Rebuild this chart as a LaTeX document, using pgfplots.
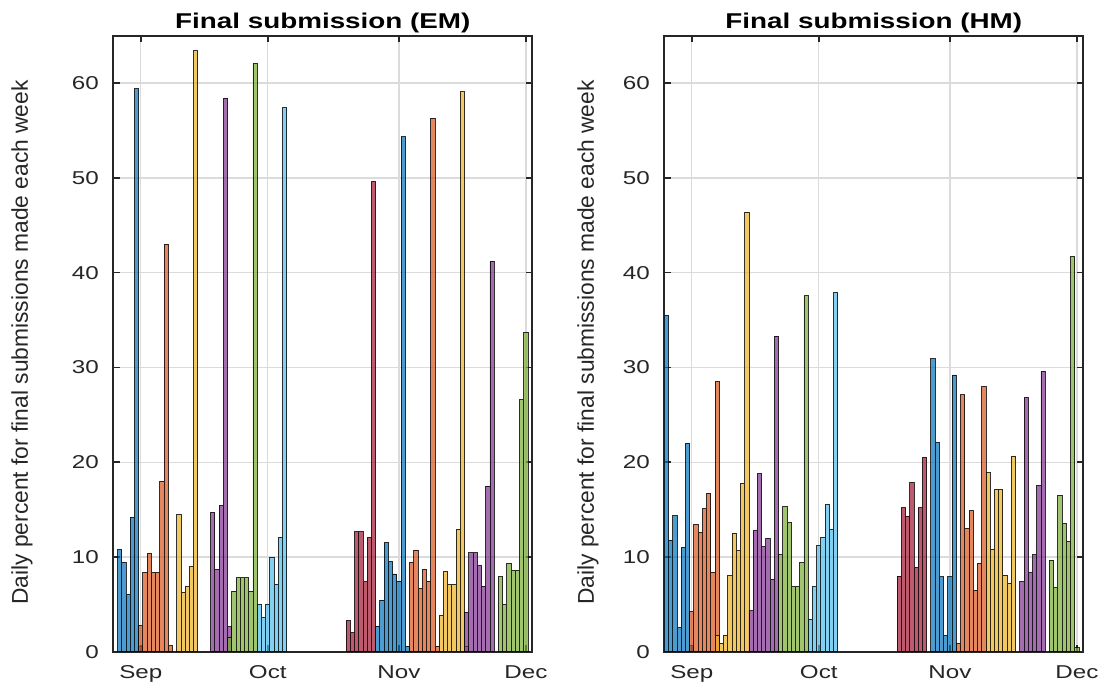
\documentclass[border=0pt]{standalone}
\usepackage{pgfplots}
\pgfplotsset{compat=1.18}
\usepackage{fontspec}
\setmainfont{Liberation Sans}
\definecolor{mblue}{RGB}{0,114,189}
\definecolor{morange}{RGB}{217,83,25}
\definecolor{myellow}{RGB}{237,177,32}
\definecolor{mpurple}{RGB}{126,47,142}
\definecolor{mgreen}{RGB}{119,172,48}
\definecolor{mlblue}{RGB}{77,190,238}
\definecolor{mred}{RGB}{162,20,47}
\definecolor{axgray}{RGB}{38,38,38}
\pgfplotsset{
  mybar/.style={ybar, bar width=1, bar shift=0pt, fill=#1, fill opacity=0.7,
    draw=black, draw opacity=0.8, line width=0.9pt},
  myaxis/.style={
    scale only axis, width=419pt, height=616pt,
    xmin=-6.5, xmax=92.5, ymin=0, ymax=65,
    xtick={0,30,61,91}, xticklabels={Sep,Oct,Nov,Dec},
    ytick={0,10,20,30,40,50,60},
    /pgf/number format/assume math mode=true,
    tick align=inside, major tick length=6.5pt,
    axis line style={color=axgray, line width=1.8pt},
    tick style={color=axgray, line width=1.6pt},
    grid=major, major grid style={color=black!14, line width=1.3pt},
    ticklabel style={color=axgray, font=\fontsize{18.6}{20}\selectfont, xscale=1.3},
    xticklabel style={inner sep=0pt, yshift=-14pt},
    yticklabel style={inner sep=0pt, xshift=-11pt},
    every axis title shift=0pt,
    title style={at={(axis description cs:0.5,1)}, anchor=base, yshift=6.7pt,
      font=\bfseries\fontsize{21.4}{24}\selectfont, xscale=1.3},
    ylabel={Daily percent for final submissions made each week},
    ylabel style={anchor=center, color=axgray, font=\fontsize{22.8}{26}\selectfont},
  },
}
\begin{document}
\begin{tikzpicture}
\path[use as bounding box] (0,0) rectangle (1107pt,684pt);
% ---------------- EM ----------------
\begin{axis}[myaxis, at={(113.3pt,32.3pt)}, anchor=south west,
  title={Final submission (EM)},
  ylabel style={at={(axis description cs:-0.2177,0.502)}}]
\addplot[mybar=mblue] coordinates {(-5,10.8) (-4,9.43) (-3,6.05) (-2,14.2) (-1,59.4) (0,0.6)};
\addplot[mybar=morange] coordinates {(0,2.74) (1,8.37) (2,10.38) (3,8.37) (4,8.37) (5,18.0) (6,43.0) (7,0.63)};
\addplot[mybar=myellow] coordinates {(9,14.45) (10,6.26) (11,6.86) (12,8.97) (13,63.4)};
\addplot[mybar=mpurple] coordinates {(17,14.7) (18,8.69) (19,15.44) (20,58.4) (21,2.64)};
\addplot[mybar=mgreen] coordinates {(21,1.48) (22,6.4) (23,7.8) (24,7.8) (25,7.8) (26,6.4) (27,62.07)};
\addplot[mybar=mlblue] coordinates {(28,5.0) (29,3.59) (30,5.0) (31,9.96) (32,7.1) (33,12.1) (34,57.4)};
\addplot[mybar=mred] coordinates {(49,3.3) (50,2.0) (51,12.66) (52,12.66) (53,7.4) (54,12.07) (55,49.6)};
\addplot[mybar=mblue] coordinates {(56,2.7) (57,5.45) (58,11.5) (59,9.5) (60,8.2) (61,7.45) (62,54.33) (63,0.6)};
\addplot[mybar=morange] coordinates {(64,9.43) (65,10.73) (66,6.69) (67,8.72) (68,7.45) (69,56.3) (70,0.6)};
\addplot[mybar=myellow] coordinates {(71,3.84) (72,8.44) (73,7.07) (74,7.07) (75,12.94) (76,59.07) (77,0.6)};
\addplot[mybar=mpurple] coordinates {(77,4.15) (78,10.44) (79,10.44) (80,9.07) (81,6.93) (82,17.48) (83,41.2)};
\addplot[mybar=mgreen] coordinates {(85,7.91) (86,5.0) (87,9.32) (88,8.58) (89,8.58) (90,26.6) (91,33.7)};
\end{axis}
% ---------------- HM ----------------
\begin{axis}[myaxis, at={(664.3pt,32.3pt)}, anchor=south west,
  title={Final submission (HM)},
  ylabel style={at={(axis description cs:-0.1824,0.502)}}]
\addplot[mybar=mblue] coordinates {(-6,35.5) (-5,11.78) (-4,14.35) (-3,2.53) (-2,11.0) (-1,22.0) (0,0.7)};
\addplot[mybar=morange] coordinates {(0,4.22) (1,13.44) (2,12.6) (3,15.1) (4,16.74) (5,8.37) (6,28.5)};
\addplot[mybar=myellow] coordinates {(6,1.76) (7,0.9) (8,1.76) (9,8.0) (10,12.5) (11,10.66) (12,17.8) (13,46.4)};
\addplot[mybar=mpurple] coordinates {(14,4.3) (15,12.77) (16,18.78) (17,11.1) (18,11.96) (19,7.63) (20,33.3)};
\addplot[mybar=mgreen] coordinates {(21,10.24) (22,15.3) (23,13.65) (24,6.86) (25,6.86) (26,9.4) (27,37.55)};
\addplot[mybar=mlblue] coordinates {(28,3.41) (29,6.86) (30,11.2) (31,12.06) (32,15.55) (33,12.94) (34,37.9)};
\addplot[mybar=mred] coordinates {(49,7.98) (50,15.2) (51,14.3) (52,17.83) (53,8.9) (54,15.2) (55,20.5)};
\addplot[mybar=mblue] coordinates {(57,30.9) (58,22.1) (59,7.9) (60,1.72) (61,7.9) (62,29.2)};
\addplot[mybar=morange] coordinates {(63,0.88) (64,27.1) (65,13.0) (66,14.9) (67,6.5) (68,9.32) (69,27.96)};
\addplot[mybar=myellow] coordinates {(70,18.9) (71,10.83) (72,17.13) (73,17.13) (74,8.09) (75,7.2) (76,20.65)};
\addplot[mybar=mpurple] coordinates {(78,7.39) (79,26.8) (80,8.34) (81,10.24) (82,17.55) (83,29.6)};
\addplot[mybar=mgreen] coordinates {(85,9.67) (86,6.79) (87,16.5) (88,13.54) (89,11.64) (90,41.7) (91,0.4)};
\end{axis}
\end{tikzpicture}
\end{document}
